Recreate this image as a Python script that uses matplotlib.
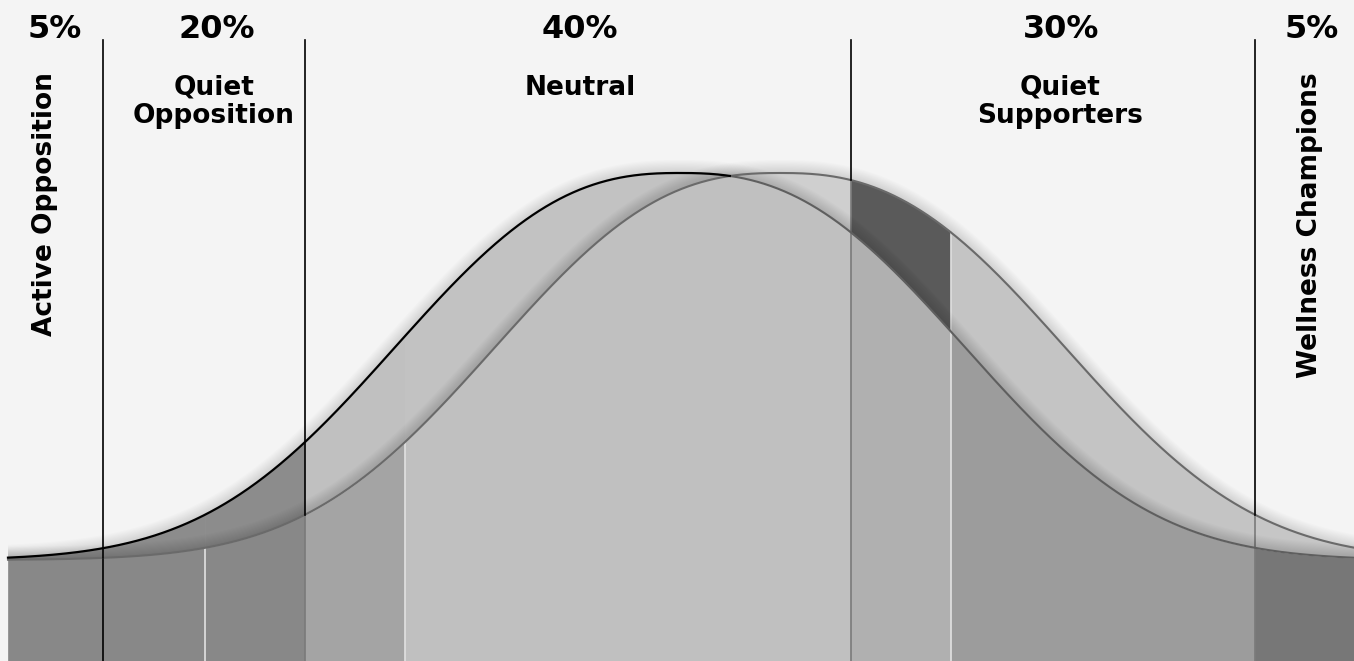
import numpy as np
import matplotlib.pyplot as plt
from matplotlib.patches import Polygon

plt.rcParams['font.family'] = ['DejaVu Sans']

# segment data
pct_labels = ['5%', '20%', '40%', '30%', '5%']
group_names = ['Active Opposition', 'Quiet\nOpposition', 'Neutral', 'Quiet\nSupporters', 'Wellness Champions']
pct_x = [55, 217, 580, 1061, 1312]
name_x = [45, 214, 580, 1060, 1310]
rotated = [True, False, False, False, True]

# layout in pixel-like units
x_left, x_right = 8, 1354
dividers = [103, 305, 851, 1255]
sub_dividers = [205, 405, 951]
baseline = 560
peak_height = 387
centers = [680, 780]          # curve A (before), curve B (after)
spread, power = 350, 2.5

# colours of each vertical band: below both curves, lens with A on top, lens with B on top
band_low = ['#888888', '#888888', '#888888', '#a4a4a4', '#c0c0c0', '#b0b0b0', '#9c9c9c', '#777777']
band_lens_a = ['#8c8c8c', '#8c8c8c', '#8c8c8c', '#c0c0c0', '#c2c2c2', '#c2c2c2', '#c2c2c2', '#c2c2c2']
band_lens_b = ['#cfcfcf', '#cfcfcf', '#cfcfcf', '#cfcfcf', '#cfcfcf', '#5a5a5a', '#c4c4c4', '#c6c6c6']

BG = '#f4f4f4'


def bell(x, c):
    return baseline - peak_height * np.exp(-(np.abs(x - c) / spread) ** power)


fig = plt.figure(figsize=(13.54, 6.61), dpi=100, facecolor=BG)
ax = fig.add_axes([0, 0, 1, 1])
ax.set_facecolor(BG)
ax.set_xlim(0, 1354)
ax.set_ylim(661, 0)
ax.axis('off')

edges = [x_left] + sorted(dividers + sub_dividers) + [x_right]
for i in range(len(edges) - 1):
    xs = np.linspace(edges[i], edges[i + 1], 400)
    ya, yb = bell(xs, centers[0]), bell(xs, centers[1])
    top, low = np.minimum(ya, yb), np.maximum(ya, yb)
    ax.fill_between(xs, low, 661, color=band_low[i], lw=0.5, zorder=1)
    ax.fill_between(xs, top, low, where=ya <= yb, interpolate=True,
                    color=band_lens_a[i], lw=0.5, zorder=1)
    ax.fill_between(xs, top, low, where=yb < ya, interpolate=True,
                    color=band_lens_b[i], lw=0.5, zorder=1)

x = np.linspace(x_left, x_right, 2000)
ya, yb = bell(x, centers[0]), bell(x, centers[1])

# dividers below curve B
for d in sub_dividers:
    ax.plot([d, d], [bell(d, centers[1]), 661], color='#e2e2e2', lw=1.2, zorder=2)
for k, d in enumerate(dividers):
    col = 'black' if k == 0 else '#7a7a7a'
    ax.plot([d, d], [bell(d, centers[1]), 661], color=col, lw=1.2, zorder=2)

# soft shadows above each curve
for y in (ya, yb):
    verts = np.column_stack([np.r_[x, x_right, x_left], np.r_[y, -50, -50]])
    clip = Polygon(verts, closed=True, transform=ax.transData)
    for w in np.linspace(2, 26, 12):
        ln, = ax.plot(x, y, color='black', lw=w * 0.72, alpha=0.011,
                      solid_capstyle='butt', zorder=3)
        ln.set_clip_path(clip)

# curve outlines
cross = (centers[0] + centers[1]) / 2
ax.plot(x, yb, color='#6a6a6a', lw=1.5, zorder=4)
ax.plot(x[x > cross], ya[x > cross], color='#5f5f5f', lw=1.5, zorder=4)
ax.plot(x[x <= cross], ya[x <= cross], color='black', lw=1.6, zorder=5)

# dividers above curve B
for d in dividers:
    ax.plot([d, d], [40, bell(d, centers[1])], color='black', lw=1.2, zorder=5)

# labels
for px, nx, pct, name, rot in zip(pct_x, name_x, pct_labels, group_names, rotated):
    ax.text(px, 29, pct, ha='center', va='center', fontsize=23, fontweight='bold', zorder=6)
    if rot:
        ax.text(nx, 72, name, ha='center', va='top', rotation=90,
                fontsize=19, fontweight='bold', zorder=6)
    else:
        ax.text(nx, 75, name, ha='center', va='top', fontsize=19, fontweight='bold',
                linespacing=1.12, zorder=6)

fig.savefig('out.png', dpi=100, facecolor=BG)
